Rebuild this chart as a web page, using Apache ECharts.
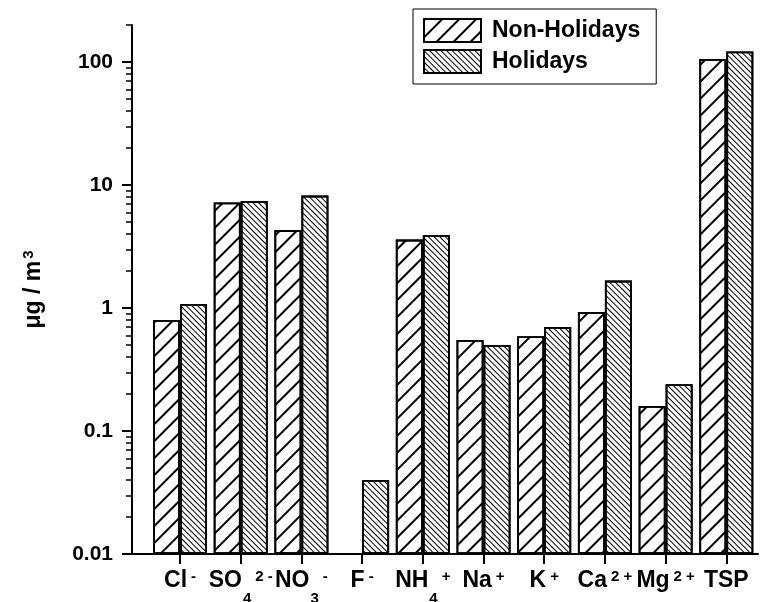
<!DOCTYPE html>
<html>
<head>
<meta charset="utf-8">
<script src="https://cdn.jsdelivr.net/npm/echarts@6/dist/echarts.min.js"></script>
<style>
  html, body { margin: 0; padding: 0; background: #fff; }
  #chart { width: 779px; height: 602px; }
</style>
</head>
<body>
<div id="chart"></div>
<script>
// ions, rich-text labels (sub / sup)
const categories = ['Cl{sup|-}', 'SO{sub|4}{sup|2 -}', 'NO{sub|3}{sup|-}', 'F{sup|-}', 'NH{sub|4}{sup|+}',
  'Na{sup|+}', 'K{sup|+}', 'Ca{sup|2 +}', 'Mg{sup|2 +}', 'TSP']
// µg/m3
const nonHolidays = [0.80, 7.2, 4.3, null, 3.6, 0.55, 0.59, 0.93, 0.16, 106]
const holidays = [1.08, 7.4, 8.2, 0.04, 3.9, 0.50, 0.70, 1.67, 0.24, 122]
const yLabels = [0.01, 0.1, 1, 10, 100]

const FONT = "'Liberation Sans', Arial, sans-serif"

// minor log ticks 2..9 in each decade, plus 200 at the top
const yMinor = []
yLabels.forEach(d => {
  for (let k = 2; k <= 9; k++) {
    const v = +(k * d).toPrecision(3)
    if (v <= 200) yMinor.push(v)
  }
})

const idx = categories.map((c, i) => i)
const toPairs = arr => arr.map((v, i) => [i, v]).filter(p => p[1] != null)

const hatchNon = {
  symbol: 'rect', symbolSize: 1, color: '#000',
  dashArrayX: [1, 0], dashArrayY: [1.2, 9.3], rotation: -Math.PI / 4
}
const hatchHol = {
  symbol: 'rect', symbolSize: 1, color: '#000',
  dashArrayX: [1, 0], dashArrayY: [1, 2.6], rotation: Math.PI / 4
}

const chart = echarts.init(document.getElementById('chart'), null, { renderer: 'canvas' })

const option = {
  animation: false,
  backgroundColor: '#fff',
  textStyle: { fontFamily: FONT, color: '#000' },
  grid: { left: 132, right: 21, top: 25, bottom: 48, containLabel: false, outerBoundsMode: 'none' },
  legend: {
    orient: 'vertical',
    left: 413, top: 9,
    padding: [9, 16, 10, 10],
    borderColor: '#000', borderWidth: 1,
    backgroundColor: '#fff',
    itemWidth: 57, itemHeight: 23, itemGap: 6,
    icon: 'rect',
    textStyle: { fontFamily: FONT, fontSize: 23, fontWeight: 'bold', color: '#000', lineHeight: 23, padding: [0, 0, 0, 6] },
    data: ['Non-Holidays', 'Holidays']
  },
  xAxis: {
    type: 'value',
    min: -0.791, max: 9.522,
    splitLine: { show: false },
    axisLine: { show: true, onZero: false, lineStyle: { color: '#000', width: 2 } },
    axisTick: { show: true, customValues: idx, length: 10, lineStyle: { color: '#000', width: 2 } },
    axisLabel: {
      customValues: idx,
      margin: 12,
      fontFamily: FONT, fontSize: 23, fontWeight: 'bold', color: '#000', lineHeight: 30,
      formatter: v => categories[Math.round(v)],
      rich: {
        sup: { fontFamily: FONT, fontSize: 15, fontWeight: 'bold', color: '#000', lineHeight: 30, padding: [0, 0, 9, 4] },
        sub: { fontFamily: FONT, fontSize: 15, fontWeight: 'bold', color: '#000', lineHeight: 30, padding: [36, 0, 0, 1] }
      }
    }
  },
  yAxis: [
    {
      type: 'log', logBase: 10,
      min: 0.01, max: 200, startValue: 0.01,
      name: 'μg / m{sup|3}',
      nameLocation: 'middle', nameGap: 86,
      nameTextStyle: {
        fontFamily: FONT, fontSize: 23, fontWeight: 'bold', color: '#000',
        rich: { sup: { fontFamily: FONT, fontSize: 15, fontWeight: 'bold', color: '#000', padding: [0, 0, 10, 2] } }
      },
      splitLine: { show: false },
      axisLine: { show: true, onZero: false, lineStyle: { color: '#000', width: 2 } },
      axisTick: { show: true, customValues: yLabels, length: 10, lineStyle: { color: '#000', width: 2 } },
      axisLabel: {
        customValues: yLabels, margin: 19,
        fontFamily: FONT, fontSize: 21, fontWeight: 'bold', color: '#000',
        formatter: v => String(+v.toPrecision(3))
      }
    },
    {
      type: 'log', logBase: 10,
      min: 0.01, max: 200, position: 'left', offset: 0,
      splitLine: { show: false },
      axisLine: { show: false, onZero: false },
      axisLabel: { show: false },
      axisTick: { show: true, customValues: yMinor, length: 6, lineStyle: { color: '#000', width: 1.5 } }
    }
  ],
  series: [
    {
      name: 'Non-Holidays', type: 'bar',
      barWidth: 27, barGap: '0%',
      data: toPairs(nonHolidays),
      itemStyle: { color: '#fff', borderColor: '#000', borderWidth: 1.8, decal: hatchNon }
    },
    {
      name: 'Holidays', type: 'bar',
      barWidth: 27, barGap: '0%',
      data: toPairs(holidays),
      itemStyle: { color: '#fff', borderColor: '#000', borderWidth: 1.8, decal: hatchHol }
    }
  ]
}

chart.setOption(option)
</script>
</body>
</html>
